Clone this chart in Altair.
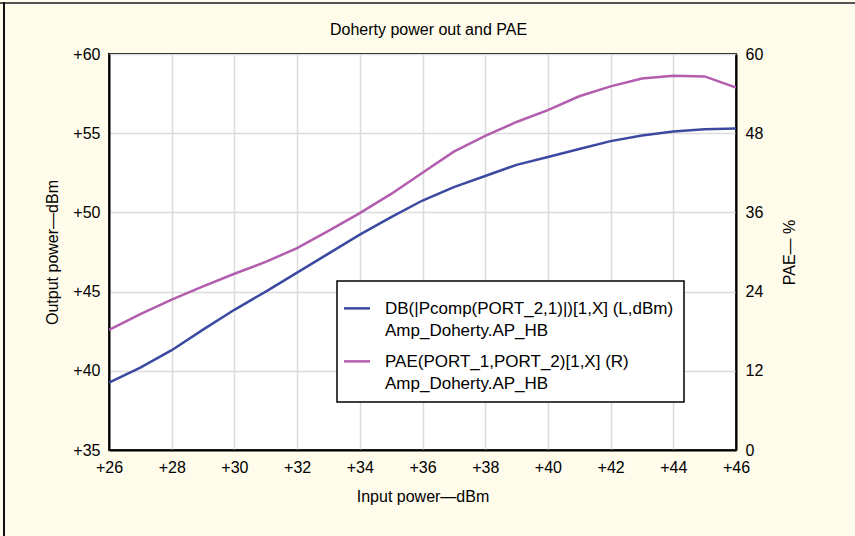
import altair as alt
import pandas as pd

# ---- data ----
pin = [26, 27, 28, 29, 30, 31, 32, 33, 34, 35, 36, 37, 38, 39, 40, 41, 42, 43, 44, 45, 46]
pout_dbm = [39.25, 40.2, 41.3, 42.6, 43.85, 45.0, 46.2, 47.4, 48.6, 49.7, 50.75,
            51.6, 52.3, 53.0, 53.5, 54.0, 54.5, 54.85, 55.1, 55.25, 55.3]
pae_pct = [18.2, 20.6, 22.8, 24.8, 26.7, 28.5, 30.6, 33.2, 35.9, 38.8, 42.0,
           45.2, 47.6, 49.7, 51.5, 53.6, 55.1, 56.3, 56.7, 56.6, 54.9]

series_names = [
    "DB(|Pcomp(PORT_2,1)|)[1,X] (L,dBm)~Amp_Doherty.AP_HB",
    "PAE(PORT_1,PORT_2)[1,X] (R)~Amp_Doherty.AP_HB",
]
series_colors = ["#3b4aa0", "#b25dad"]

x_ticks = [26, 28, 30, 32, 34, 36, 38, 40, 42, 44, 46]
y_left_ticks = [35, 40, 45, 50, 55, 60]
y_right_ticks = [0, 12, 24, 36, 48, 60]

df_pout = pd.DataFrame({"pin": pin, "val": pout_dbm, "series": series_names[0]})
df_pae = pd.DataFrame({"pin": pin, "val": pae_pct, "series": series_names[1]})

FONT = "Liberation Sans"

color = alt.Color(
    "series:N",
    scale=alt.Scale(domain=series_names, range=series_colors),
    legend=alt.Legend(
        title=None,
        orient="none",
        legendX=228,
        legendY=227,
        fillColor="white",
        strokeColor="black",
        padding=10,
        rowPadding=5,
        symbolType="M-1.5,0.85L1.5,0.85",
        symbolSize=300,
        symbolStrokeWidth=2.5,
        labelFont=FONT,
        labelFontSize=17,
        labelColor="black",
        labelLimit=600,
        labelOffset=18,
        labelBaseline="top",
        labelExpr="split(datum.label, '~')",
    ),
)

x_enc = alt.X(
    "pin:Q",
    scale=alt.Scale(domain=[26, 46], nice=False),
    axis=alt.Axis(
        title="Input power\u2014dBm",
        values=x_ticks,
        format="+d",
        grid=True,
        labelFlush=False,
        labelPadding=9,
        titlePadding=13,
    ),
)

left = alt.Chart(df_pout).mark_line(strokeWidth=2.5, clip=True).encode(
    x=x_enc,
    y=alt.Y(
        "val:Q",
        scale=alt.Scale(domain=[35, 60], nice=False, zero=False),
        axis=alt.Axis(
            title="Output power\u2014dBm",
            values=y_left_ticks,
            format="+d",
            grid=True,
            orient="left",
            labelPadding=9,
            titlePadding=12,
        ),
    ),
    color=color,
)

right = alt.Chart(df_pae).mark_line(strokeWidth=2.5, clip=True).encode(
    x=x_enc,
    y=alt.Y(
        "val:Q",
        scale=alt.Scale(domain=[0, 60], nice=False),
        axis=alt.Axis(
            title="PAE\u2014 %",
            values=y_right_ticks,
            format="d",
            grid=False,
            orient="right",
            labelPadding=9,
            titlePadding=35,
            titleAngle=-90,
        ),
    ),
    color=color,
)

# decorative frame lines at the image's top and left edges
top_line = alt.Chart(df_pout).mark_rule(color="#555555", strokeWidth=2).encode(
    x=alt.value(-109), x2=alt.value(746), y=alt.value(-51)
)
left_line = alt.Chart(df_pout).mark_rule(color="#111111", strokeWidth=1.5).encode(
    x=alt.value(-105), y=alt.value(-52), y2=alt.value(482)
)

chart = (
    alt.layer(left, right, top_line, left_line)
    .resolve_scale(y="independent")
    .properties(
        width=627,
        height=396,
        autosize=alt.AutoSizeParams(type="none"),
        padding={"left": 109, "top": 54, "right": 119, "bottom": 86},
        background="#FFFCEB",
        title=alt.TitleParams(
            "Doherty power out and PAE",
            font=FONT,
            fontSize=16,
            fontWeight="normal",
            color="black",
            baseline="alphabetic",
            offset=-50,
            dx=6,
        ),
    )
    .configure(style={"guide-label": {"lineHeight": 22}})
    .configure_view(stroke="black", strokeWidth=2, fill="white")
    .configure_axis(
        labelFont=FONT,
        labelFontSize=16,
        labelColor="black",
        titleFont=FONT,
        titleFontSize=16,
        titleFontWeight="normal",
        titleColor="black",
        domainColor="black",
        domainWidth=2,
        ticks=False,
        gridColor="#dcdcdc",
        gridWidth=1.5,
    )
    .configure_legend(strokeWidth=1.5)
)

chart.save("out.html", embed_options={"renderer": "svg", "actions": False})
